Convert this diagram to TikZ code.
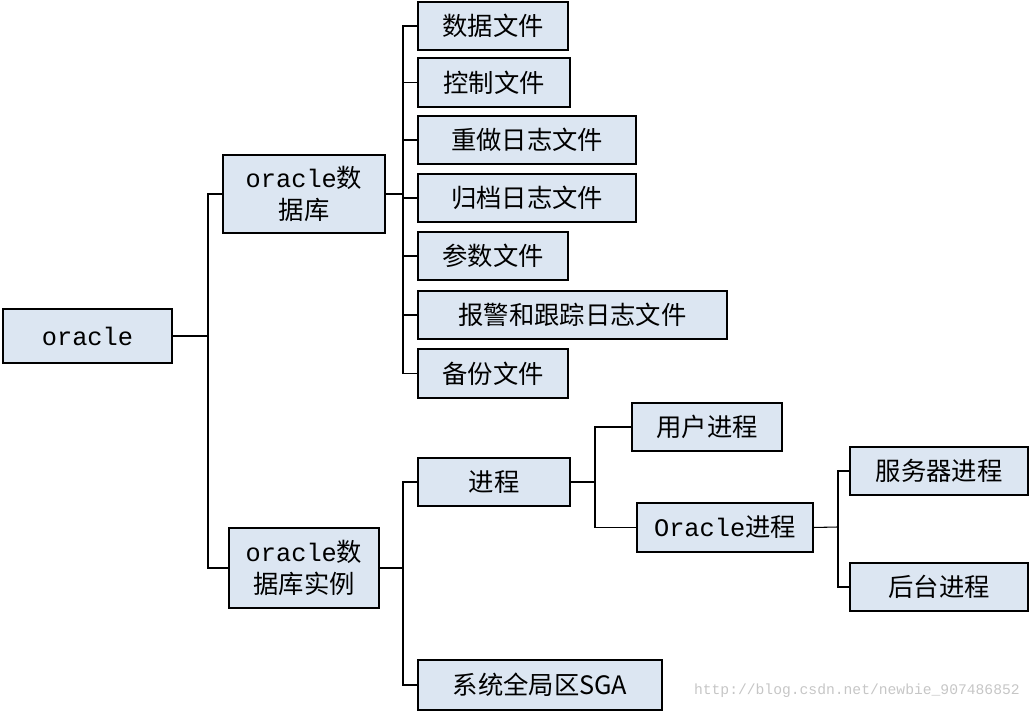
\documentclass[tikz,border=0pt]{standalone}
\usepackage{fontspec}
\setmainfont{Noto Sans CJK SC}
\setmonofont{Liberation Mono}
\begin{document}
\begin{tikzpicture}[x=0.75pt,y=-0.75pt,
  bx/.style={draw=black,fill=boxc,line width=0.8pt},
  lb/.style={font=\fontsize{19}{24}\selectfont,align=center,inner sep=0pt},
  ln/.style={line width=0.8pt}]
\definecolor{boxc}{HTML}{DCE6F2}
\useasboundingbox (0,0) rectangle (1031,712);
\newcommand{\bb}[6]{\draw[bx] (#2,#3) rectangle (#4,#5); \node[lb] (#1) at ({(#2+#4)/2},{(#3+#5)/2}) {#6};
  \coordinate (#1L) at (#2,{(#3+#5)/2}); \coordinate (#1R) at (#4,{(#3+#5)/2});}
\bb{o}{3}{309}{172}{363}{\texttt{oracle}}
\bb{db}{223}{155}{385}{233}{\texttt{oracle}数\\据库}
\bb{in}{229}{528}{379}{608}{\texttt{oracle}数\\据库实例}
\bb{f1}{418}{2}{568}{50}{数据文件}
\bb{f2}{418}{58}{570}{107}{控制文件}
\bb{f3}{418}{116}{636}{164}{重做日志文件}
\bb{f4}{418}{174}{636}{222}{归档日志文件}
\bb{f5}{418}{232}{568}{280}{参数文件}
\bb{f6}{418}{291}{727}{339}{报警和跟踪日志文件}
\bb{f7}{418}{349}{568}{398}{备份文件}
\bb{p}{418}{458}{570}{506}{进程}
\bb{s}{418}{660}{662}{710}{系统全局区SGA}
\bb{u}{632}{403}{782}{451}{用户进程}
\bb{op}{637}{503}{813}{552}{\texttt{Oracle}进程}
\bb{sv}{850}{447}{1028}{495}{服务器进程}
\bb{bg}{850}{563}{1028}{611}{后台进程}
\draw[ln] (oR) -- (208,336);
\foreach \t in {db,in} \draw[ln] (208,336) |- (\t L);
\draw[ln] (dbR) -- (403,194);
\foreach \t in {f1,f2,f3,f4,f5,f6,f7} \draw[ln] (403,194) |- (\t L);
\draw[ln] (inR) -- (403,568);
\foreach \t in {p,s} \draw[ln] (403,568) |- (\t L);
\draw[ln] (pR) -- (595,482);
\foreach \t in {u,op} \draw[ln] (595,482) |- (\t L);
\draw[ln] (opR) -- (838,527);
\foreach \t in {sv,bg} \draw[ln] (838,527) |- (\t L);
\node[anchor=east,text=gray!45,font=\ttfamily\fontsize{11}{13}\selectfont,inner sep=0pt] (wm) at (1020,691) {http://blog.csdn.net/newbie\_907486852};
\end{tikzpicture}
\end{document}
